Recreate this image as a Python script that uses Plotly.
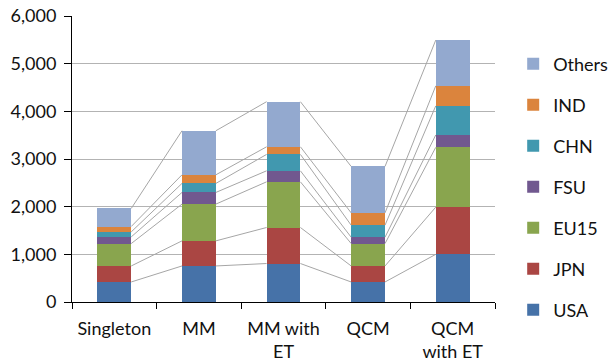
import plotly.graph_objects as go
import numpy as np

categories = ["Singleton", "MM", "MM with<br>ET", "QCM", "QCM<br>with ET"]
series_names = ["USA", "JPN", "EU15", "FSU", "CHN", "IND", "Others"]
usa = [420, 756, 807, 420, 1000]
jpn = [336, 526, 756, 336, 990]
eu15 = [470, 771, 958, 470, 1255]
fsu = [140, 245, 231, 133, 260]
chn = [105, 189, 344, 252, 610]
ind = [113, 181, 160, 259, 420]
others = [378, 924, 946, 974, 960]
colors = ["#4672A8", "#AA4643", "#89A54E", "#71588F", "#4198AF", "#DB843D", "#93A9CF"]

values = [usa, jpn, eu15, fsu, chn, ind, others]
xpos = list(range(len(categories)))
bar_w = 0.4

fig = go.Figure()
for i, (name, vals) in enumerate(zip(series_names, values)):
    fig.add_trace(go.Bar(
        x=xpos, y=vals, name=name, width=bar_w,
        marker=dict(color=colors[i], line=dict(width=0)),
        legendgroup=name, legendrank=100 - i, hoverinfo="skip",
    ))

cum = np.cumsum(np.array(values), axis=0)
lx, ly = [], []
for k in range(cum.shape[0]):
    for i in range(len(xpos) - 1):
        lx += [xpos[i] + bar_w / 2, xpos[i + 1] - bar_w / 2, None]
        ly += [cum[k][i], cum[k][i + 1], None]
fig.add_trace(go.Scatter(
    x=lx, y=ly, mode="lines", line=dict(color="#A6A6A6", width=1),
    showlegend=False, hoverinfo="skip",
))

font = "Lato, sans-serif"
fig.update_layout(
    width=615, height=364,
    margin=dict(l=72, r=120, t=16, b=62, autoexpand=False),
    barmode="stack",
    plot_bgcolor="white", paper_bgcolor="white",
    font=dict(family=font, size=18, color="#111111"),
    showlegend=True,
    legend=dict(
        x=1.043, xanchor="left", y=0.402, yanchor="middle",
        traceorder="grouped", tracegroupgap=14.6,
        font=dict(family=font, size=18, color="#111111"),
        itemwidth=30, bgcolor="rgba(0,0,0,0)",
    ),
    xaxis=dict(
        range=[-0.5, len(categories) - 0.5],
        tickvals=xpos, ticktext=categories,
        ticks="", showgrid=False, zeroline=False,
        showline=True, linecolor="#000000", linewidth=1,
        minor=dict(tickvals=[i - 0.5 for i in range(len(categories) + 1)],
                   ticks="outside", ticklen=6, tickcolor="#000000", showgrid=False),
        tickfont=dict(family=font, size=18),
        ticklabelstandoff=10,
        ticklabeloverflow="allow",
    ),
    yaxis=dict(
        range=[0, 6000], dtick=1000, tickformat=",",
        ticks="outside", ticklen=7, tickcolor="#000000",
        showline=True, linecolor="#000000", linewidth=1,
        showgrid=True, gridcolor="#B3B3B3", gridwidth=1,
        zeroline=False,
        tickfont=dict(family=font, size=18),
        ticklabelstandoff=4,
        ticklabeloverflow="allow",
    ),
)

fig.write_html(
    "out.html",
    config={"displayModeBar": False, "staticPlot": True},
    post_script="document.body.style.margin='0';document.body.style.overflow='hidden';",
)
